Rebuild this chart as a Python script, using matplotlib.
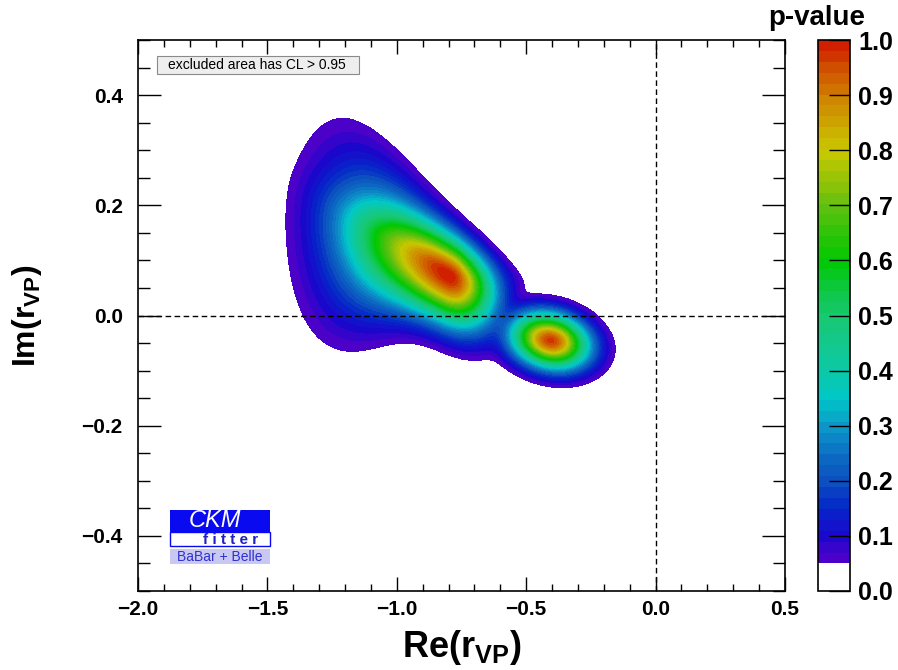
import numpy as np
import matplotlib
matplotlib.use("Agg")
import matplotlib.pyplot as plt
from matplotlib.colors import LinearSegmentedColormap, ListedColormap, BoundaryNorm
from matplotlib.patches import Rectangle
from matplotlib.ticker import MultipleLocator, FuncFormatter

plt.rcParams['font.family'] = ['Liberation Sans', 'DejaVu Sans']
plt.rcParams['mathtext.fontset'] = 'custom'
plt.rcParams['mathtext.rm'] = 'Liberation Sans:bold'
plt.rcParams['mathtext.default'] = 'rm'

#Axis ranges and ticks
xRange = [-2.0, 0.5]
yRange = [-0.5, 0.5]
pvalTicks = [0.0, 0.1, 0.2, 0.3, 0.4, 0.5, 0.6, 0.7, 0.8, 0.9, 1.0]
clCut = 0.05 #below this the area is excluded (white)

#Main solution, tilted ellipse in the cartesian plane
coreCentre = [-0.80, 0.073]
coreSigma = [0.20, 0.12, 0.058, 0.042] #along -/+ , across -/+ (split widths)
coreAngle = -14.0 #degrees
coreWeight = 1.0

#Broad tail towards large |r|, gaussian in modulus and phase
tailModulus = [1.0, 0.21] #mean, sigma
tailPhase = [173.0, 4.6] #mean (deg), sigma at the mean modulus (deg)
tailWeight = 0.42

#Second solution sitting just under the real axis
sideCentre = [-0.406, -0.045]
sideSigma = [0.106, 0.104, 0.035, 0.034]
sideAngle = -4.0
sideWeight = 0.97
mergePower = 2.5 #how sharply the two solutions join

#p-value palette
paletteStops = [0.05, 0.10, 0.15, 0.20, 0.25, 0.30, 0.35, 0.40, 0.45, 0.50,
                0.55, 0.60, 0.65, 0.70, 0.75, 0.80, 0.85, 0.90, 0.95, 1.00]
paletteColours = ["#5400c8", "#1a08cc", "#0428c8", "#0c50c0", "#0c70c4", "#0c98c8",
                  "#00c8c8", "#0cc8a6", "#14c88c", "#18c870", "#0cc840", "#00c800",
                  "#30c408", "#60c010", "#98c408", "#c8c800", "#cca400", "#d08000",
                  "#d05000", "#d01800"]


def ellipseChi2(X, Y, centre, sigma, angle):
    """Chi2 of a tilted 2D gaussian with different widths on each side"""
    t = np.radians(angle)
    dx, dy = X - centre[0], Y - centre[1]
    u = dx*np.cos(t) + dy*np.sin(t)
    v = -dx*np.sin(t) + dy*np.cos(t)
    su = np.where(u < 0, sigma[0], sigma[1])
    sv = np.where(v < 0, sigma[2], sigma[3])
    return (u/su)**2 + (v/sv)**2


def polarChi2(X, Y, modulus, phase):
    """Chi2 of a gaussian in |r| and arg(r), the phase width grows with |r|"""
    r = np.hypot(X, Y)
    phi = np.degrees(np.arctan2(Y, X)) % 360
    sPhi = np.maximum(phase[1]*r/modulus[0], 1e-3)
    return ((r - modulus[0])/modulus[1])**2 + ((phi - phase[0])/sPhi)**2


def tickFmt(v, pos):
    s = "%.1f" % v
    if s == "-0.0":
        s = "0.0"
    return s.replace("-", "\u2212")


#Build the p-value map
xs = np.linspace(xRange[0], xRange[1], 1300)
ys = np.linspace(yRange[0], yRange[1], 1100)
X, Y = np.meshgrid(xs, ys)
pCore = coreWeight*np.exp(-0.5*ellipseChi2(X, Y, coreCentre, coreSigma, coreAngle))
pTail = tailWeight*np.exp(-0.5*polarChi2(X, Y, tailModulus, tailPhase))
pSide = sideWeight*np.exp(-0.5*ellipseChi2(X, Y, sideCentre, sideSigma, sideAngle))
pMain = 1 - (1 - pCore)*(1 - pTail)
#soft maximum of the two solutions
pval = np.minimum((pMain**mergePower + pSide**mergePower)**(1/mergePower), 1.0)

#Colour bands: white for the excluded area then ~0.02 wide steps
cmap = LinearSegmentedColormap.from_list(
    "ckm", [((s - paletteStops[0])/(paletteStops[-1] - paletteStops[0]), c)
            for s, c in zip(paletteStops, paletteColours)])
levels = np.concatenate([[0.0], np.linspace(clCut, 1.0, 49)])
mids = 0.5*(levels[1:-1] + levels[2:])
bandColours = ["white"] + [cmap((m - clCut)/(1 - clCut)) for m in mids]
bandCmap = ListedColormap(bandColours)
bandNorm = BoundaryNorm(levels, bandCmap.N)

fig = plt.figure(figsize=(8.98, 6.7), dpi=100)
W, H = 898.0, 670.0
ax = fig.add_axes([138/W, 1 - 591/H, 647/W, 551/H])

im = ax.imshow(pval, extent=[xRange[0], xRange[1], yRange[0], yRange[1]], origin="lower",
               cmap=bandCmap, norm=bandNorm, aspect="auto", interpolation="nearest")

ax.axvline(0.0, color="black", lw=1.0, ls=(0, (4, 2.5)))
ax.axhline(0.0, color="black", lw=1.0, ls=(0, (4, 2.5)))

ax.set_xlim(xRange)
ax.set_ylim(yRange)
ax.xaxis.set_major_locator(MultipleLocator(0.5))
ax.xaxis.set_minor_locator(MultipleLocator(0.1))
ax.yaxis.set_major_locator(MultipleLocator(0.2))
ax.yaxis.set_minor_locator(MultipleLocator(0.05))
ax.xaxis.set_major_formatter(FuncFormatter(tickFmt))
ax.yaxis.set_major_formatter(FuncFormatter(tickFmt))
ax.tick_params(which="both", direction="in", top=True, right=True, width=1.0, colors="black")
ax.tick_params(axis="x", which="major", length=10, pad=6.5)
ax.tick_params(axis="x", which="minor", length=5)
ax.tick_params(axis="y", which="major", length=16.5, pad=11)
ax.tick_params(axis="y", which="minor", length=8.5)
for lab in ax.get_xticklabels() + ax.get_yticklabels():
    lab.set_fontsize(15)
    lab.set_fontweight("bold")
for sp in ax.spines.values():
    sp.set_linewidth(1.2)

ax.set_xlabel(r"Re(r$_{\mathrm{VP}}$)", fontsize=26, fontweight="bold")
ax.set_ylabel(r"Im(r$_{\mathrm{VP}}$)", fontsize=23, fontweight="bold")
ax.xaxis.set_label_coords(0.5, -0.068)
ax.yaxis.set_label_coords(-0.145, 0.5)

#Legend box at the top left
ax.add_patch(Rectangle((0.0294, 0.938), 0.312, 0.033, transform=ax.transAxes,
                       facecolor="#eeeeee", edgecolor="#8a8a8a", lw=0.8, zorder=5))
ax.text(0.0464, 0.9546, "excluded area has CL > 0.95", transform=ax.transAxes,
        fontsize=10, va="center", ha="left", zorder=6)

#CKMfitter logo
ax.add_patch(Rectangle((0.0495, 0.1071), 0.1546, 0.040, transform=ax.transAxes,
                       facecolor="#0a0af0", edgecolor="none", zorder=5))
ax.add_patch(Rectangle((0.0495, 0.0817), 0.1546, 0.0254, transform=ax.transAxes,
                       facecolor="white", edgecolor="#0a0af0", lw=1.0, zorder=5))
ax.add_patch(Rectangle((0.0495, 0.049), 0.1546, 0.0272, transform=ax.transAxes,
                       facecolor="#c8c8f2", edgecolor="none", zorder=5))
ax.text(0.119, 0.128, "CKM", transform=ax.transAxes, color="white", fontsize=17,
        style="italic", ha="center", va="center", zorder=6)
ax.text(0.1435, 0.0926, "f i t t e r", transform=ax.transAxes, color="#2020c0",
        fontsize=11, fontweight="bold", ha="center", va="center", zorder=6)
ax.text(0.1265, 0.0626, "BaBar + Belle", transform=ax.transAxes, color="#3030d0",
        fontsize=10, ha="center", va="center", zorder=6)

#Colour bar
cax = fig.add_axes([818/W, 1 - 591/H, 32/W, 551/H])
cbar = fig.colorbar(im, cax=cax, spacing="proportional", ticks=pvalTicks)
cbar.ax.yaxis.set_major_formatter(FuncFormatter(tickFmt))
cbar.ax.tick_params(direction="in", length=15, width=1.0, pad=6)
cbar.ax.minorticks_off()
for lab in cbar.ax.get_yticklabels():
    lab.set_fontsize(18)
    lab.set_fontweight("bold")
cbar.outline.set_linewidth(1.2)
fig.text(817/W, 1 - 18/H, "p-value", fontsize=20, fontweight="bold", ha="center", va="center")

fig.savefig("out.png", dpi=100)
